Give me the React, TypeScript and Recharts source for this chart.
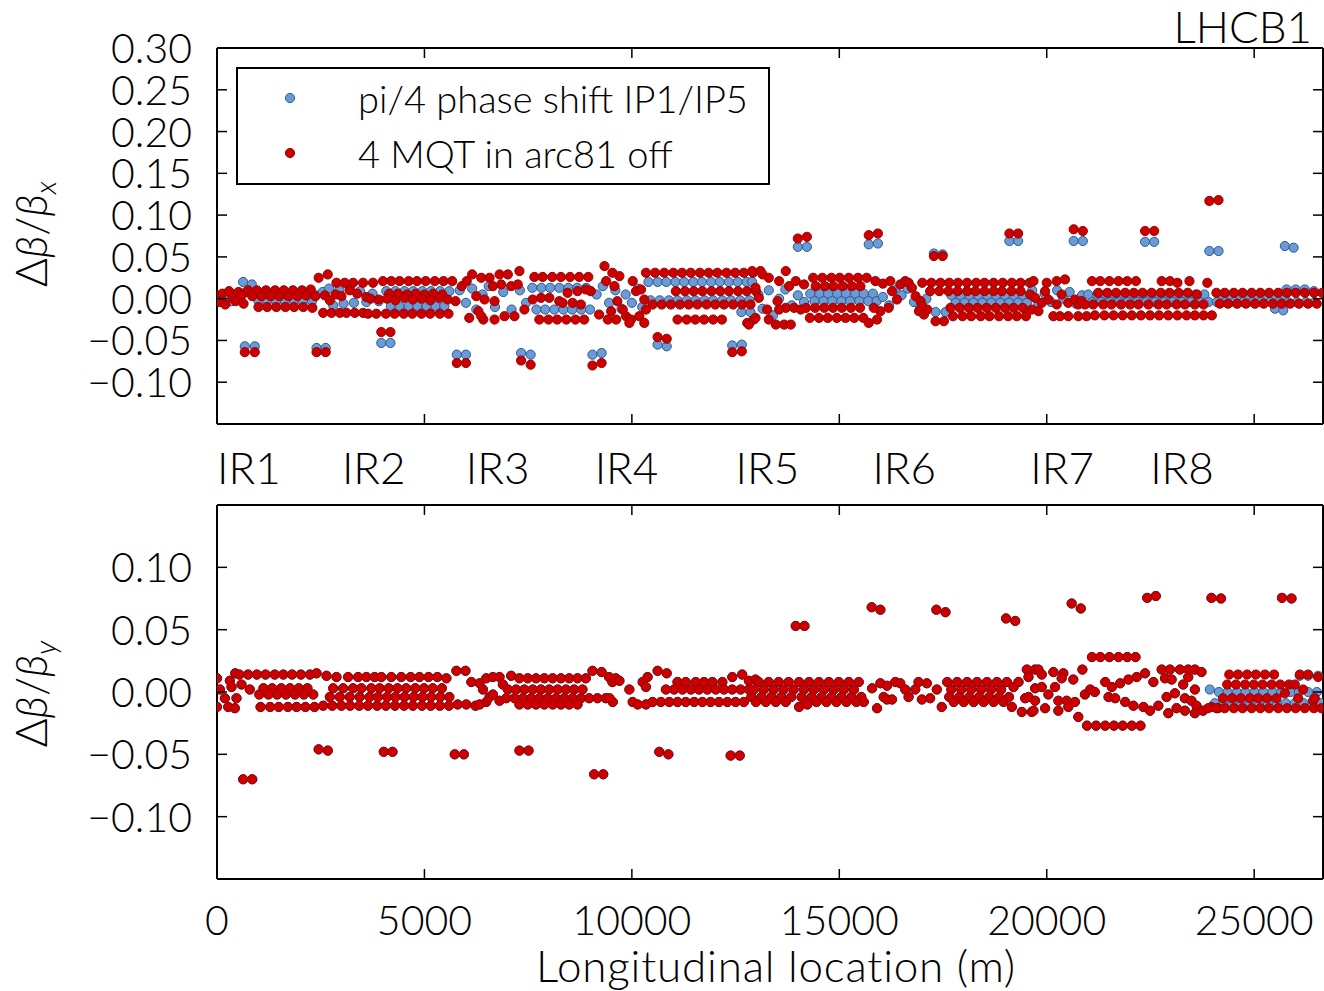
import React from "react";
import { ScatterChart, Scatter, XAxis, YAxis, Legend } from "recharts";

type Row = [number, number];

const FONT = "Lato, 'DejaVu Sans', sans-serif";
const S_MAX = 26659;
const PLOT_L = 217;
const PLOT_W = 1106;

const X_TICKS = [0, 5000, 10000, 15000, 20000, 25000];
const TOP_Y_TICKS = [-0.1, -0.05, 0, 0.05, 0.1, 0.15, 0.2, 0.25, 0.3];
const BOT_Y_TICKS = [-0.1, -0.05, 0, 0.05, 0.1];

const IR_NAMES = ["IR1", "IR2", "IR3", "IR4", "IR5", "IR6", "IR7", "IR8"];
const IR_LABEL_S = [0, 3010, 5996, 9103, 12499, 15798, 19603, 22493];

const BLUE = "#6b9bd5";
const BLUE_EDGE = "#2c5a92";
const RED = "#cc0000";
const RED_EDGE = "#9a0000";

const SERIES = [
  { name: "pi/4 phase shift IP1/IP5", fill: BLUE, stroke: BLUE_EDGE },
  { name: "4 MQT in arc81 off", fill: RED, stroke: RED_EDGE },
];

// ---- horizontal plane, pi/4 phase shift ----
const topBlue: Row[] = [
  [10,-0.002],[100,0.004],[180,-0.004],[260,0.002],[350,-0.003],[430,0.005],[630,0.02],[840,0.017],[700,0.008],[900,0.004],
  [1000,-0.003],[1210,-0.003],[1430,-0.003],[1640,-0.003],[1860,-0.003],[2070,-0.003],[2290,-0.003],
  [1100,0.004],[1320,0.004],[1530,0.004],[1750,0.004],[1960,0.004],[2180,0.004],[2390,0.004],
  [2550,0.008],[2700,0.012],[2800,-0.008],[2950,0.01],[3050,-0.006],[3200,0.012],[3300,-0.005],[3450,0.009],[3600,-0.004],[3750,0.006],[3900,-0.003],
  [4080,0.009],[4300,0.009],[4520,0.009],[4730,0.009],[4950,0.009],[5160,0.009],[5380,0.009],[5600,0.009],
  [4190,-0.009],[4400,-0.009],[4620,-0.009],[4830,-0.009],[5050,-0.009],[5270,-0.009],[5480,-0.009],
  [5850,0.01],[6000,-0.005],[6150,0.012],[6250,-0.013],[6400,0.005],[6550,0.015],[6700,-0.01],[6900,0.008],[7100,-0.013],[7300,0.01],[7450,-0.005],
  [7600,0.013],[7820,0.013],[8030,0.013],[8250,0.013],[8470,0.013],[8680,0.013],[8900,0.013],
  [7700,-0.013],[7910,-0.013],[8130,-0.013],[8350,-0.013],[8560,-0.013],[8780,-0.013],[8990,-0.013],
  [9150,0.005],[9300,0.015],[9450,-0.005],[9600,0.01],[9750,-0.012],[9850,0.005],[10000,-0.005],[10150,0.012],[10250,-0.01],
  [10400,0.02],[10620,0.02],[10830,0.02],[11050,0.02],[11260,0.02],[11480,0.02],[11690,0.02],[11910,0.02],[12120,0.02],[12340,0.02],[12550,0.02],[12770,0.02],
  [10450,-0.002],[10670,-0.002],[10890,-0.002],[11100,-0.002],[11320,-0.002],[11530,-0.002],[11750,-0.002],[11960,-0.002],[12180,-0.002],[12390,-0.002],[12610,-0.002],[12830,-0.002],
  [12640,-0.016],[12860,-0.016],
  [12900,0.02],[13050,0.005],[13150,-0.012],[13300,0.01],[13400,-0.02],[13550,0],[13700,0.011],[13850,-0.008],[14000,0.004],[14150,-0.004],
  [14300,0.006],[14520,0.006],[14730,0.006],[14950,0.006],[15160,0.006],[15380,0.006],[15590,0.006],[15810,0.006],
  [14400,-0.003],[14620,-0.003],[14830,-0.003],[15050,-0.003],[15260,-0.003],[15480,-0.003],[15700,-0.003],[15900,-0.003],
  [16050,0.002],[16200,-0.008],[16350,0.01],[16500,0.004],[16650,0.012],[16800,-0.004],[16950,-0.01],[17100,0],
  [17320,-0.016],[17560,-0.016],
  [17700,0.004],[17920,0.004],[18130,0.004],[18350,0.004],[18560,0.004],[18780,0.004],[18990,0.004],[19210,0.004],[19420,0.004],
  [17800,-0.005],[18020,-0.005],[18230,-0.005],[18450,-0.005],[18660,-0.005],[18880,-0.005],[19090,-0.005],[19310,-0.005],[19520,-0.005],
  [19650,0.01],[19800,-0.006],[19950,0.006],[20100,-0.004],[20250,0.01],[20400,0],[20550,0.008],[20700,-0.006],[20850,0.004],
  [21000,0.005],[21220,0.005],[21430,0.005],[21650,0.005],[21860,0.005],[22080,0.005],[22300,0.005],[22510,0.005],[22730,0.005],[22940,0.005],[23160,0.005],[23370,0.005],[23590,0.005],[23800,0.005],
  [21100,-0.004],[21320,-0.004],[21530,-0.004],[21750,-0.004],[21960,-0.004],[22180,-0.004],[22400,-0.004],[22610,-0.004],[22830,-0.004],[23040,-0.004],[23260,-0.004],[23470,-0.004],[23690,-0.004],[23900,-0.004],
  [24200,0.002],[24420,0.002],[24630,0.002],[24850,0.002],[25060,0.002],[25280,0.002],[25500,0.002],[25710,0.002],
  [24100,-0.004],[24310,-0.004],[24530,-0.004],[24740,-0.004],[24960,-0.004],[25170,-0.004],[25390,-0.004],[25600,-0.004],[25820,-0.004],[26030,-0.004],[26250,-0.004],[26460,-0.004],
  [25500,-0.012],[25700,-0.014],[25780,0.011],[26000,0.011],[26220,0.011],[26440,0.009],
];
const topBlueOut: Row[] = [
  [670,-0.057],[910,-0.057],[2400,-0.059],[2620,-0.059],[3960,-0.053],[4180,-0.053],[5780,-0.067],[6000,-0.067],
  [7330,-0.065],[7560,-0.067],[9050,-0.067],[9270,-0.065],[10620,-0.055],[10840,-0.057],[12420,-0.056],[12650,-0.055],
  [14000,0.062],[14220,0.062],[15710,0.065],[15930,0.066],[17280,0.054],[17490,0.053],[19100,0.069],[19310,0.069],
  [20650,0.069],[20870,0.069],[22370,0.068],[22590,0.068],[23920,0.057],[24140,0.057],[25740,0.063],[25950,0.061],
];

// ---- horizontal plane, MQT off ----
const topRed: Row[] = [
  [0,0.004],[60,-0.004],[130,0.006],[200,-0.007],[290,0.009],[370,0.001],[450,-0.003],[520,0.008],[600,0.004],[640,-0.006],
  [750,0.01],[960,0.01],[1180,0.01],[1400,0.01],[1610,0.01],[1830,0.01],[2050,0.01],[2260,0.011],
  [850,0.003],[1070,0.003],[1290,0.003],[1500,0.003],[1720,0.003],[1940,0.003],[2150,0.004],[2370,0.003],
  [1000,-0.01],[1210,-0.01],[1430,-0.01],[1650,-0.01],[1860,-0.01],[2080,-0.01],[2300,-0.011],
  [2560,-0.017],[2600,0.004],[2720,-0.002],[2760,-0.017],[2860,0.005],[2880,0.019],[2960,-0.017],[3000,0.003],[3080,0.019],[3120,-0.017],[3200,0.01],[3280,0.019],[3320,-0.017],[3380,0.006],[3520,0.019],[3520,-0.017],[3600,0.002],[3760,0.019],
  [4000,0.021],[4200,0.021],[4400,0.021],[4620,0.021],[4820,0.021],[5030,0.021],[5250,0.021],[5460,0.021],[5670,0.021],
  [4150,0.006],[4360,0.006],[4580,0.005],[4790,0.006],[5000,0.005],[5210,0.006],[5430,0.005],
  [3700,0],[3900,-0.001],[4100,0],[4300,-0.002],[4520,0.001],[4720,-0.001],[4930,0],[5140,-0.002],[5360,0.001],[5560,-0.001],
  [3640,-0.018],[3840,-0.018],[4070,-0.018],[4280,-0.018],[4500,-0.018],[4710,-0.018],[4930,-0.018],[5140,-0.018],[5370,-0.018],[5580,-0.018],
  [5750,-0.003],[5900,0.015],[6020,0.021],[6150,0.029],[6250,0.003],[6080,-0.023],[6300,-0.015],[6420,-0.025],
  [6370,0.025],[6570,0.025],[6650,0.015],[6810,0.029],[7010,0.029],[6850,0.017],[7090,0.015],[7250,0.017],[7290,0.033],[6450,-0.001],[6690,-0.003],[6370,-0.021],[6690,-0.025],[6930,-0.021],[7170,-0.021],[7410,-0.013],
  [7650,0.026],[7850,0.026],[8080,0.026],[8290,0.026],[8510,0.026],[8730,0.026],[8950,0.026],
  [7610,-0.001],[7810,0.001],[8010,0.001],[8250,-0.003],[8450,0.007],[8690,0.009],[8890,0.011],[8330,-0.005],[8570,-0.005],[8770,-0.007],
  [7770,-0.025],[7990,-0.025],[8200,-0.025],[8420,-0.025],[8640,-0.025],[8850,-0.025],
  [9010,0.009],[9210,-0.019],[9340,0.039],[9530,0.031],[9380,0.021],[9580,0.015],[9700,0.027],[9650,-0.003],[9500,-0.015],[9420,-0.025],[9620,-0.025],[9780,-0.013],[9860,-0.021],[9980,-0.025],[9940,-0.029],
  [10020,0.021],[10100,0.009],[10220,0.011],[10300,-0.001],[10340,-0.013],[10180,-0.021],[10300,-0.029],
  [10340,0.031],[10560,0.031],[10780,0.031],[11000,0.031],[11210,0.031],[11420,0.031],[11640,0.031],[11850,0.031],[12060,0.031],[12280,0.031],[12490,0.031],[12700,0.031],[12920,0.031],
  [11060,0.009],[11280,0.009],[11490,0.009],[11700,0.009],[11920,0.009],[12130,0.009],[12340,0.009],[12560,0.009],[12770,0.009],[12990,0.009],
  [10500,-0.007],[10720,-0.007],[10940,-0.007],[11160,-0.007],[11370,-0.007],[11580,-0.007],[11800,-0.007],[12010,-0.007],[12220,-0.007],[12440,-0.007],[12660,-0.007],[12860,-0.007],
  [11100,-0.025],[11320,-0.025],[11530,-0.025],[11740,-0.025],[11960,-0.025],[12170,-0.025],[12780,-0.029],[12940,-0.025],
  [12900,0.033],[13100,0.033],[13150,0.029],[13300,0.025],[13550,0.021],[13710,0.033],[12980,0.013],[13060,0.001],[12980,-0.023],[12820,-0.031],[13260,-0.013],[13300,-0.025],[13470,-0.031],[13670,-0.031],[13830,-0.031],[13710,-0.011],[13910,-0.011],[14070,-0.013],[13510,-0.003],[13550,-0.013],[13790,0.015],[13950,0.021],[14150,0.017],
  [14370,0.025],[14590,0.025],[14810,0.025],[15010,0.025],[15230,0.025],[15450,0.025],[15660,0.025],[15870,0.021],[16050,0.018],[16230,0.021],
  [14430,0.015],[14650,0.015],[14860,0.015],[15080,0.015],[15300,0.015],[15510,0.015],
  [14200,-0.011],[14420,-0.011],[14640,-0.011],[14850,-0.011],[15060,-0.011],[15280,-0.011],[15500,-0.011],
  [14290,-0.023],[14510,-0.023],[14720,-0.023],[14940,-0.023],[15150,-0.023],[15360,-0.023],[15580,-0.023],[15710,-0.029],[15910,-0.025],
  [15830,-0.011],[15990,-0.015],[16190,-0.011],[16270,0.009],[16390,-0.001],[16470,0.017],[16590,0.021],[16670,0.019],[16750,0.013],[16840,0.003],[16960,-0.003],[17000,-0.009],[16920,-0.015],[17040,-0.019],[17120,-0.013],[17320,-0.027],[17520,-0.027],
  [17000,0.019],[17220,0.019],[17440,0.019],[17650,0.019],[17860,0.019],[18080,0.019],[18300,0.019],[18500,0.019],[18720,0.019],[18940,0.019],[19160,0.019],[19370,0.019],[19590,0.019],
  [17190,0.009],[17410,0.009],[17630,0.009],[17850,0.009],[18080,0.009],[18280,0.009],[18500,0.009],[18720,0.009],[18920,0.009],[19150,0.009],[19370,0.009],
  [17680,-0.011],[17900,-0.011],[18120,-0.011],[18330,-0.011],[18550,-0.011],[18770,-0.011],[18990,-0.011],[19200,-0.011],[19420,-0.011],
  [17740,-0.021],[17970,-0.021],[18180,-0.021],[18410,-0.021],[18620,-0.021],[18850,-0.021],[19070,-0.021],[19280,-0.021],[19500,-0.021],
  [19600,0.005],[19640,-0.013],[19680,0.021],[19720,0.001],[19800,-0.015],[19880,-0.005],[19960,0.009],[20000,0.019],[20040,-0.001],[20160,-0.021],[20240,0.021],[20240,-0.007],[20320,-0.021],[20360,0.005],[20440,0.023],[20520,-0.005],[20520,-0.021],[20680,-0.001],[20760,-0.007],[20760,-0.021],[20840,-0.003],[20960,-0.021],
  [21090,0.021],[21290,0.021],[21510,0.021],[21730,0.021],[21940,0.021],[22150,0.021],[22770,0.021],[22970,0.021],[23150,0.019],[23440,0.021],[23870,0.019],
  [21240,0.007],[21460,0.007],[21670,0.007],[21890,0.007],[22100,0.007],[22310,0.007],[22530,0.007],[22750,0.007],[22960,0.007],[23180,0.007],[23400,0.007],[23620,0.005],
  [20920,-0.007],[21120,-0.007],[21360,-0.007],[21560,-0.007],[21790,-0.007],[22010,-0.007],[22210,-0.007],[22450,-0.007],[22690,-0.007],[22890,-0.007],[23130,-0.007],[23330,-0.007],[23570,-0.007],[23780,-0.007],
  [21160,-0.02],[21390,-0.02],[21610,-0.02],[21830,-0.02],[22050,-0.02],[22270,-0.02],[22490,-0.02],[22710,-0.02],[22930,-0.02],[23150,-0.02],[23370,-0.02],[23570,-0.02],[23780,-0.02],[23980,-0.02],
  [24090,0.007],[24290,0.007],[24510,0.007],[24720,0.007],[24940,0.007],[25150,0.007],[25360,0.007],[25580,0.007],[25790,0.007],[26000,0.007],[26220,0.007],[26440,0.007],[26640,0.007],
  [24170,-0.006],[24370,-0.006],[24590,-0.006],[24800,-0.006],[25020,-0.006],[25230,-0.006],[25450,-0.006],[25660,-0.006],[25870,-0.006],[26080,-0.006],[26300,-0.006],[26510,-0.006],
];
const topRedOut: Row[] = [
  [670,-0.064],[910,-0.064],[2400,-0.064],[2620,-0.064],[2450,0.025],[2670,0.029],[3960,-0.04],[4180,-0.04],
  [5780,-0.077],[6000,-0.077],[7330,-0.074],[7560,-0.079],[9050,-0.08],[9270,-0.077],[10620,-0.046],[10840,-0.048],
  [12420,-0.064],[12650,-0.063],[14000,0.072],[14220,0.074],[15710,0.076],[15930,0.078],[17280,0.051],[17490,0.051],
  [19100,0.078],[19310,0.078],[20650,0.083],[20870,0.081],[22370,0.081],[22590,0.081],[23920,0.117],[24140,0.118],
];

// ---- vertical plane: both runs agree outside arc 81 ----
const botCommon: Row[] = [
  [0,0.011],[0,-0.012],[70,0.002],[190,-0.005],[270,-0.012],[310,0.009],[350,0.004],[430,-0.013],[470,-0.005],[440,0.015],[590,0.006],[790,0.002],
  [540,0.014],[750,0.014],[960,0.014],[1170,0.014],[1390,0.014],[1600,0.014],[1810,0.014],[2020,0.014],[2240,0.014],[2400,0.015],
  [1120,0.003],[1330,0.003],[1550,0.003],[1760,0.003],[1970,0.003],[2180,0.003],
  [1020,-0.002],[1240,-0.002],[1450,-0.002],[1660,-0.002],[1880,-0.002],[2090,-0.002],[2320,-0.002],
  [1050,-0.012],[1280,-0.012],[1490,-0.012],[1710,-0.012],[1920,-0.012],[2130,-0.012],[2350,-0.012],
  [2560,-0.011],[2780,-0.011],[3000,-0.011],[3210,-0.011],[3430,-0.011],[3640,-0.011],[3860,-0.011],[4070,-0.011],[4290,-0.011],[4510,-0.011],[4720,-0.011],[4940,-0.011],[5150,-0.011],[5370,-0.011],[5590,-0.011],[5800,-0.01],[6010,-0.01],[6230,-0.011],
  [2640,0.013],[2880,0.012],[3160,0.012],[3400,0.012],[3600,0.012],[3800,0.012],[3960,0.012],[4200,0.012],[4440,0.012],[4670,0.012],[4880,0.012],[5100,0.012],[5310,0.012],[5530,0.011],
  [2800,0.003],[3040,0.003],[3280,0.003],[3480,0.003],[3720,0.003],[3920,0.003],[4140,0.003],[4350,0.003],[4560,0.003],[4780,0.003],[4990,0.003],[5200,0.003],[5420,0.003],
  [2720,-0.004],[2960,-0.004],[3200,-0.004],[3440,-0.004],[3680,-0.004],[3880,-0.004],[4100,-0.004],[4300,-0.004],[4520,-0.004],[4740,-0.004],[4950,-0.004],[5160,-0.004],[5380,-0.004],[5600,-0.004],
  [6130,0.008],[6330,0.007],[6410,0.002],[6490,-0.008],[6330,-0.01],[6570,-0.004],
  [6490,0.011],[6650,0.012],[6810,0.012],[6650,-0.002],[6810,-0.007],[6890,0.006],
  [7090,0.013],[7290,0.011],[7490,0.011],[7690,0.011],[7890,0.011],[8090,0.011],[8290,0.011],[8490,0.011],[8690,0.011],[8890,0.011],
  [7010,0.002],[7210,0.002],[7410,0.002],[7610,0.002],[7810,0.002],[8010,0.002],[8210,0.002],[8410,0.002],[8610,0.002],[8810,0.002],
  [6970,-0.005],[7170,-0.005],[7370,-0.005],[7570,-0.005],[7770,-0.005],[7970,-0.005],[8170,-0.005],[8370,-0.005],[8570,-0.005],[8770,-0.005],[8970,-0.005],[9170,-0.005],[9370,-0.005],
  [7290,-0.01],[7490,-0.01],[7690,-0.01],[7890,-0.01],[8090,-0.01],[8290,-0.01],[8490,-0.01],[8690,-0.01],
  [9450,0.012],[9530,0.008],[9610,0.011],[9700,0.009],[9540,-0.008],[9460,-0.005],[9940,0.002],[10020,-0.008],[10140,-0.01],[10260,0.008],[10340,-0.01],[10380,0.012],[10340,0.004],
  [11100,0.008],[11300,0.008],[11540,0.008],[11740,0.008],[11940,0.008],[12180,0.008],
  [10820,0.002],[11020,0.002],[11220,0.002],[11420,0.002],[11620,0.002],[11820,0.002],[12020,0.002],[12220,0.002],[12420,0.002],[12620,0.002],[12820,0.002],
  [10500,-0.008],[10700,-0.008],[10900,-0.008],[11100,-0.008],[11300,-0.008],[11500,-0.008],[11700,-0.008],[11900,-0.008],[12100,-0.008],[12300,-0.008],[12500,-0.008],[12700,-0.008],
  [12420,0.012],[12660,0.014],[12820,0.009],[12980,0.01],
  [13060,0.008],[13300,0.008],[13540,0.008],[13780,0.008],[14030,0.008],[14270,0.008],[14510,0.008],[14750,0.008],[14990,0.008],[15230,0.008],[15470,0.008],
  [12940,0.002],[13180,0.002],[13420,0.002],[13660,0.002],[13900,0.002],[14150,0.002],[14390,0.002],[14630,0.002],[14870,0.002],[15110,0.002],[15350,0.002],
  [12880,-0.004],[13120,-0.004],[13360,-0.004],[13600,-0.004],[13840,-0.004],[14090,-0.004],[14330,-0.004],[14570,-0.004],[14810,-0.004],[15050,-0.004],[15290,-0.004],[15530,-0.004],
  [12990,-0.008],[13230,-0.008],[13470,-0.008],[13710,-0.008],[14210,-0.008],[14450,-0.008],[14690,-0.008],[14930,-0.008],[15170,-0.008],[15410,-0.008],[15590,-0.008],
  [14030,-0.012],[14230,-0.01],
  [15790,0.003],[15910,-0.013],[16070,-0.004],[16150,-0.006],[16270,-0.006],[15990,0.007],[16150,0.005],[16350,0.008],[16470,0.007],[16590,0.002],[16670,-0.004],[16910,0.008],[16830,0.002],[17110,0.007],[16990,-0.006],[17190,-0.005],[17350,0.002],[17470,-0.012],
  [17600,0.008],[17840,0.008],[18080,0.008],[18320,0.008],[18560,0.008],[18800,0.008],[19040,0.008],
  [17700,0.002],[17940,0.002],[18180,0.002],[18420,0.002],[18660,0.002],[18900,0.002],
  [17650,-0.004],[17890,-0.004],[18130,-0.004],[18370,-0.004],[18610,-0.004],[18850,-0.004],[19090,-0.004],
  [17760,-0.008],[18000,-0.008],[18240,-0.008],[18480,-0.008],[18720,-0.008],[18960,-0.008],
  [19160,-0.012],[19200,0.004],[19320,0.008],[19400,-0.016],[19480,-0.005],[19520,0.018],[19560,0.012],[19640,-0.016],[19720,0.018],[19720,0.003],
  [19800,0.018],[19880,0.014],[20160,0.016],[20400,0.015],[20640,0.01],[20860,0.018],[20360,0.011],[20200,0.004],[19880,0.004],[20040,-0.002],[19560,-0.004],[19720,-0.007],[20280,-0.007],[20480,-0.007],[20680,-0.008],
  [20920,-0.002],[21050,0.002],[21160,0],[21410,0.008],[21570,0.004],[21770,0.007],[21970,0.01],[22170,0.012],[22370,0.015],[21490,-0.004],[21650,-0.005],[21890,-0.008],[22090,-0.011],[22330,-0.012],
  [22570,0.008],[22770,0.018],[22970,0.018],[23210,0.018],[23410,0.018],[23570,0.018],[23730,0.016],[22850,0.011],[23010,0.01],[23290,0.006],[23410,0.012],[23570,0.002],[23090,-0.001],[22890,-0.004],[23330,-0.005],[23490,-0.007],[23610,-0.011],
  [19680,-0.015],[19960,-0.013],[20280,-0.015],[20520,-0.012],[20760,-0.02],[22490,-0.015],[22690,-0.011],[22930,-0.017],[23130,-0.013],[23330,-0.015],[23570,-0.017],[23770,-0.015],
  [21090,0.028],[21290,0.028],[21510,0.028],[21730,0.028],[21940,0.028],[22140,0.028],
  [20970,-0.027],[21190,-0.027],[21410,-0.027],[21620,-0.027],[21830,-0.027],[22050,-0.027],[22260,-0.027],
];
const botOut: Row[] = [
  [630,-0.07],[850,-0.07],[2450,-0.046],[2670,-0.047],[4020,-0.048],[4230,-0.048],[5730,-0.05],[5950,-0.05],
  [5770,0.017],[5990,0.017],[7290,-0.047],[7510,-0.047],[9050,0.017],[9270,0.016],[9090,-0.066],[9310,-0.066],
  [10620,0.017],[10840,0.015],[10660,-0.048],[10880,-0.05],[12380,-0.051],[12600,-0.051],[13950,0.053],[14160,0.053],
  [15780,0.068],[15990,0.066],[17340,0.066],[17560,0.064],[19020,0.059],[19240,0.057],[20600,0.071],[20820,0.067],
  [22420,0.0755],[22630,0.077],[23970,0.0755],[24200,0.075],[25670,0.0755],[25900,0.075],
];
const botBlue81: Row[] = [
  [23930,0.002],[24150,0],[24360,0],[24580,0],[24790,0],[25010,0],[25220,0],[25440,0],[25650,0],[25870,0],[26080,0],[26300,0],[26510,0],
  [24050,-0.009],[24260,-0.009],[24470,-0.009],[24690,-0.009],[24900,-0.009],[25120,-0.009],[25330,-0.009],[25550,-0.009],[25760,-0.009],[25980,-0.009],[26190,-0.009],[26410,-0.009],[26620,-0.009],
  [26100,0.013],[26300,0.013],[26540,0.013],
];
const botRed81: Row[] = [
  [23970,-0.012],[24130,-0.013],
  [24400,0.014],[24610,0.014],[24830,0.014],[25040,0.014],[25260,0.014],[25480,0.014],[26100,0.014],[26300,0.014],[26540,0.012],
  [24350,0.006],[24560,0.006],[24780,0.006],[24990,0.006],[25200,0.006],[25420,0.006],[25630,0.006],[25840,0.006],[25980,0.006],[26180,0.002],[26420,-0.007],
  [24250,-0.005],[24470,-0.005],[24680,-0.005],[24900,-0.005],[25100,-0.005],[25310,-0.005],[25540,-0.005],[25740,-0.001],[26060,-0.005],[26460,-0.005],
  [23890,-0.013],[24090,-0.013],[24290,-0.013],[24510,-0.013],[24720,-0.013],[24940,-0.013],[25150,-0.013],[25360,-0.013],[25580,-0.013],[25790,-0.013],[26000,-0.013],[26220,-0.013],[26440,-0.013],[26620,-0.013],
];

const pts = (...lists: Row[][]) => lists.flat().map(([s, v]) => ({ s, v }));

const fmtY = (v: number) => (v < -1e-9 ? "\u2212" : "") + Math.abs(v).toFixed(2);
const txt = { fontFamily: FONT, fontWeight: 300, fill: "#000" } as const;
const AXIS_LINE = { stroke: "#000", strokeWidth: 2 };

const LeftTick = (p: any) => (
  <g>
    <line x1={p.x} x2={p.x + 10} y1={p.y} y2={p.y} stroke="#000" strokeWidth={1.5} />
    <text x={p.x - 25} y={p.y + 15} textAnchor="end" fontSize={41} {...txt}>{fmtY(p.payload.value)}</text>
  </g>
);
const RightTick = (p: any) => <line x1={p.x} x2={p.x - 10} y1={p.y} y2={p.y} stroke="#000" strokeWidth={1.5} />;
const TopTick = (p: any) => <line x1={p.x} x2={p.x} y1={p.y} y2={p.y + 10} stroke="#000" strokeWidth={1.5} />;
const BottomTick = (p: any) => <line x1={p.x} x2={p.x} y1={p.y} y2={p.y - 10} stroke="#000" strokeWidth={1.5} />;
const BottomLabelTick = (p: any) => (
  <g>
    <line x1={p.x} x2={p.x} y1={p.y} y2={p.y - 10} stroke="#000" strokeWidth={1.5} />
    <text x={p.x} y={p.y + 56} textAnchor="middle" fontSize={41} {...txt}>{p.payload.value}</text>
  </g>
);

const makeDot = (fill: string, stroke: string) => (p: any) =>
  p.cx == null ? <g /> : <circle cx={p.cx} cy={p.cy} r={4.6} fill={fill} stroke={stroke} strokeWidth={1} />;

function LegendBox() {
  return (
    <svg width={534} height={118} style={{ display: "block" }}>
      <rect x={1} y={1} width={532} height={116} fill="#fff" stroke="#000" strokeWidth={2} />
      {SERIES.map((s, i) => (
        <g key={s.name}>
          <circle cx={54} cy={31 + i * 55} r={4.6} fill={s.fill} stroke={s.stroke} strokeWidth={1} />
          <text x={122} y={46 + i * 55} fontSize={38} {...txt}>{s.name}</text>
        </g>
      ))}
    </svg>
  );
}

function Panel(props: {
  height: number;
  margin: { top: number; right: number; bottom: number; left: number };
  domain: [number, number];
  yTicks: number[];
  xLabels: boolean;
  blue: { s: number; v: number }[];
  red: { s: number; v: number }[];
  legend?: boolean;
}) {
  const { height, margin, domain, yTicks, xLabels, blue, red, legend } = props;
  return (
    <ScatterChart width={1324} height={height} margin={margin}>
      <XAxis
        xAxisId="b" type="number" dataKey="s" domain={[0, S_MAX]} ticks={X_TICKS} interval={0}
        height={xLabels ? 112 : 1} tickSize={0} tickMargin={0} tickLine={false} axisLine={AXIS_LINE}
        tick={xLabels ? BottomLabelTick : BottomTick} allowDataOverflow
        label={xLabels ? { value: "Longitudinal location (m)", position: "insideBottom", offset: 9, dx: 6, fontSize: 44, letterSpacing: 0.8, ...txt } : undefined}
      />
      <XAxis
        xAxisId="t" orientation="top" type="number" dataKey="s" domain={[0, S_MAX]} ticks={X_TICKS} interval={0}
        height={1} tickSize={0} tickMargin={0} tickLine={false} axisLine={AXIS_LINE} tick={TopTick} allowDataOverflow
      />
      <YAxis
        yAxisId="l" type="number" dataKey="v" domain={domain} ticks={yTicks} interval={0} width={PLOT_L}
        tickSize={0} tickMargin={0} tickLine={false} axisLine={AXIS_LINE} tick={LeftTick} allowDataOverflow
      />
      <YAxis
        yAxisId="r" orientation="right" type="number" dataKey="v" domain={domain} ticks={yTicks} interval={0} width={1}
        tickSize={0} tickMargin={0} tickLine={false} axisLine={AXIS_LINE} tick={RightTick} allowDataOverflow
      />
      <Scatter xAxisId="b" yAxisId="l" name={SERIES[0].name} data={blue} fill={BLUE} shape={makeDot(BLUE, BLUE_EDGE)} isAnimationActive={false} />
      <Scatter xAxisId="b" yAxisId="l" name={SERIES[1].name} data={red} fill={RED} shape={makeDot(RED, RED_EDGE)} isAnimationActive={false} />
      {legend && (
        <Legend
          layout="vertical" align="center" verticalAlign="middle" content={LegendBox}
          wrapperStyle={{ position: "absolute", left: 236, top: 67, width: 534, height: 118 }}
        />
      )}
    </ScatterChart>
  );
}

const sx = (s: number) => PLOT_L + (s / S_MAX) * PLOT_W;

export default function App() {
  return (
    <div style={{ position: "absolute", left: 0, top: 0, width: 1324, height: 991, background: "#fff", overflow: "hidden" }}>
      <div style={{ position: "absolute", left: 0, top: 0 }}>
        <Panel
          height={440} margin={{ top: 47, right: 0, bottom: 15, left: 0 }} domain={[-0.15, 0.3]} yTicks={TOP_Y_TICKS}
          xLabels={false} blue={pts(topBlue, topBlueOut)} red={pts(topRed, topRedOut)} legend
        />
      </div>
      <div style={{ position: "absolute", left: 0, top: 440 }}>
        <Panel
          height={551} margin={{ top: 64, right: 0, bottom: 0, left: 0 }} domain={[-0.15, 0.15]} yTicks={BOT_Y_TICKS}
          xLabels blue={pts(botCommon, botBlue81, botOut)} red={pts(botCommon, botRed81, botOut)}
        />
      </div>
      <svg width={1324} height={991} style={{ position: "absolute", left: 0, top: 0, pointerEvents: "none" }}>
        <text x={1312} y={43} textAnchor="end" fontSize={44} {...txt}>LHCB1</text>
        {IR_NAMES.map((n, i) => (
          <text key={n} x={sx(IR_LABEL_S[i])} y={484} fontSize={44} {...txt}>{n}</text>
        ))}
        <text transform="translate(47,234) rotate(-90)" textAnchor="middle" fontSize={44} {...txt}>
          Δ<tspan fontStyle="italic">β</tspan>/<tspan fontStyle="italic">β</tspan>
          <tspan fontStyle="italic" fontSize={30} dy={9}>x</tspan>
        </text>
        <text transform="translate(47,694) rotate(-90)" textAnchor="middle" fontSize={44} {...txt}>
          Δ<tspan fontStyle="italic">β</tspan>/<tspan fontStyle="italic">β</tspan>
          <tspan fontStyle="italic" fontSize={30} dy={9}>y</tspan>
        </text>
      </svg>
    </div>
  );
}
